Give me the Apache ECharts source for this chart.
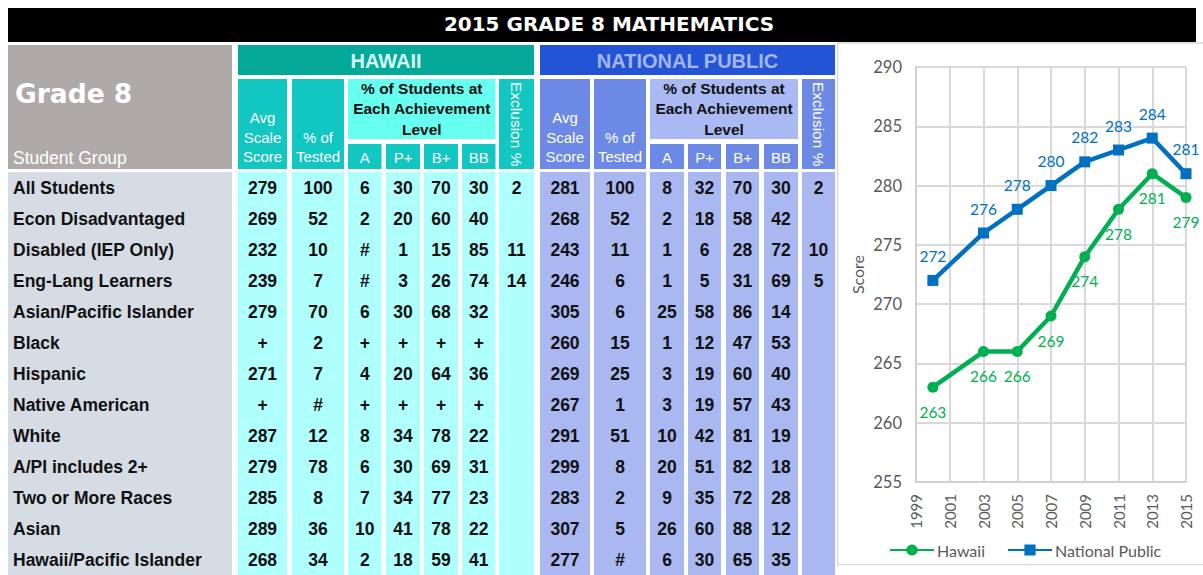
<!DOCTYPE html>
<html><head><meta charset="utf-8">
<script src="https://cdn.jsdelivr.net/npm/echarts@6/dist/echarts.min.js"></script>
<style>html,body{margin:0;padding:0;background:#fff}#c{width:1203px;height:575px}</style>
</head><body><div id="c"></div>
<script>
// ---------------- DATA ----------------
const chartTitle = '2015 GRADE 8 MATHEMATICS';
const groups = ['All Students','Econ Disadvantaged','Disabled (IEP Only)','Eng-Lang Learners','Asian/Pacific Islander','Black','Hispanic','Native American','White','A/PI includes 2+','Two or More Races','Asian','Hawaii/Pacific Islander'];
const hiAvg    = [279,269,232,239,279,'+',271,'+',287,279,285,289,268];
const hiTested = [100,52,10,7,70,2,7,'#',12,78,8,36,34];
const hiA      = [6,2,'#','#',6,'+',4,'+',8,6,7,10,2];
const hiP      = [30,20,1,3,30,'+',20,'+',34,30,34,41,18];
const hiB      = [70,60,15,26,68,'+',64,'+',78,69,77,78,59];
const hiBB     = [30,40,85,74,32,'+',36,'+',22,31,23,22,41];
const hiExcl   = [2,'',11,14,'','','','','','','','',''];
const npAvg    = [281,268,243,246,305,260,269,267,291,299,283,307,277];
const npTested = [100,52,11,6,6,15,25,1,51,8,2,5,'#'];
const npA      = [8,2,1,1,25,1,3,3,10,20,9,26,6];
const npP      = [32,18,6,5,58,12,19,19,42,51,35,60,30];
const npB      = [70,58,28,31,86,47,60,57,81,82,72,88,65];
const npBB     = [30,42,72,69,14,53,40,43,19,18,28,12,35];
const npExcl   = [2,'',10,5,'','','','','','','','',''];

const gradeLabel = 'Grade 8';
const groupHeader = 'Student Group';
const hiHeader = 'HAWAII';
const npHeader = 'NATIONAL PUBLIC';
const avgHeader = 'Avg\nScale\nScore';
const testedHeader = '% of\nTested';
const achHeader = '% of Students at\nEach Achievement\nLevel';
const levelLabels = ['A','P+','B+','BB'];
const exclHeader = 'Exclusion %';

const years = [2000,2003,2005,2007,2009,2011,2013,2015];
const hawaiiScore = [263,266,266,269,274,278,281,279];
const nationalScore = [272,276,278,280,282,283,284,281];
const seriesNames = ['Hawaii','National Public'];
const yAxisName = 'Score';

// ---------------- LAYOUT / STYLE ----------------
const tableColumns = [groups,hiAvg,hiTested,hiA,hiP,hiB,hiBB,hiExcl,npAvg,npTested,npA,npP,npB,npBB,npExcl];
const L = {
  colLeft:  [8,238,292,348,386,424,462,499,540,594,650,688,726,764,802],
  colRight: [232,287,344,381.5,420,458,495.5,534,590,646,684,721,759,798,835],
  rowsTop: 172, rowH: 31.2
};
const C = {
  label:'#d6dce4', hiData:'#b0ffff', npData:'#aab8f1',
  hiBand:'#04a99a', hiSub:'#12c6c2', hiAch:'#66fff0',
  npBand:'#2454d6', npSub:'#6b89e5', npAch:'#a9b9f3',
  grade:'#aeaaaa'
};
const colFill = tableColumns.map((_, c) => c === 0 ? C.label : (c <= 7 ? C.hiData : C.npData));
const FT = '"Liberation Sans", Arial, sans-serif';

function T(text, x, y, font, fill, align, extra) {
  return Object.assign({type:'text', x:x, y:y, style:{text:text, x:0, y:0, font:font, fill:fill,
    textAlign:align||'center', align:align||'center', textVerticalAlign:'middle', verticalAlign:'middle'}}, extra||{});
}

// header cells (layout): column span + pixel band
const headerCells = [
  {c0:0,c1:0,y0:45,y1:169,fill:C.grade, texts:[
    {t:gradeLabel, a:'left', dx:7, y:93.5, font:'bold 26.5px "DejaVu Sans", sans-serif', fill:'#fff'},
    {t:groupHeader, a:'left', dx:5, y:158, font:'17.5px '+FT, fill:'#fff'}]},
  {c0:1,c1:7,y0:45,y1:75,fill:C.hiBand, texts:[{t:hiHeader, y:60.5, font:'bold 20px '+FT, fill:'#d5fbf5'}]},
  {c0:8,c1:14,y0:45,y1:75,fill:C.npBand, texts:[{t:npHeader, y:60.5, font:'bold 20px '+FT, fill:'#a3b6f2'}]}
];
[[1,3,7,C.hiSub,C.hiAch],[8,10,14,C.npSub,C.npAch]].forEach(function(g){
  const a = g[0], l0 = g[1], ex = g[2], sub = g[3], ach = g[4];
  headerCells.push({c0:a,c1:a,y0:79,y1:169,fill:sub,texts:[{t:avgHeader,y:137,font:'15px '+FT,fill:'#fff',lh:19.5}]});
  headerCells.push({c0:a+1,c1:a+1,y0:79,y1:169,fill:sub,texts:[{t:testedHeader,y:147,font:'15px '+FT,fill:'#fff',lh:19.5}]});
  headerCells.push({c0:l0,c1:l0+3,y0:79,y1:139,fill:ach,texts:[{t:achHeader,y:108.5,font:'bold 15.5px '+FT,fill:'#111',lh:20.5}]});
  levelLabels.forEach(function(lb,i){
    headerCells.push({c0:l0+i,c1:l0+i,y0:144,y1:169,fill:sub,texts:[{t:lb,y:157.5,font:'15px '+FT,fill:'#fff'}]});
  });
  headerCells.push({c0:ex,c1:ex,y0:79,y1:169,fill:sub,texts:[{t:exclHeader,y:82,font:'15.5px '+FT,fill:'#fff',rot:true}]});
});

const cellData = [];
tableColumns.forEach(function(col, c){ col.forEach(function(v, r){ cellData.push([c, r]); }); });

function renderCell(params, api) {
  const c = api.value(0), r = api.value(1);
  const ctr = api.coord([0, r]);
  const bandH = api.size([0, 1])[1];
  const x0 = api.coord([L.colLeft[c], r])[0];
  const x1 = api.coord([L.colRight[c], r])[0];
  const y0 = ctr[1] - bandH / 2;
  const txt = String(tableColumns[c][r]);
  const children = [{type:'rect', shape:{x:x0, y:y0, width:x1 - x0, height:bandH + 0.6}, style:{fill:colFill[c]}}];
  if (txt !== '') {
    children.push(T(txt, c === 0 ? x0 + 5 : (x0 + x1) / 2, ctr[1] + 0.5, 'bold 17.5px ' + FT, '#111', c === 0 ? 'left' : 'center'));
  }
  return {type:'group', children:children};
}

function renderHeader(params, api) {
  const h = headerCells[params.dataIndex];
  const x0 = api.coord([L.colLeft[h.c0], 0])[0];
  const x1 = api.coord([L.colRight[h.c1], 0])[0];
  const children = [{type:'rect', shape:{x:x0, y:h.y0, width:x1 - x0, height:h.y1 - h.y0}, style:{fill:h.fill}}];
  h.texts.forEach(function(t){
    let el;
    if (t.rot) {
      el = T(t.t, (x0 + x1) / 2, t.y, t.font, t.fill, 'left', {rotation:-Math.PI / 2});
    } else {
      const x = t.a === 'left' ? x0 + t.dx : (x0 + x1) / 2;
      el = T(t.t, x, t.y, t.font, t.fill, t.a || 'center');
    }
    if (t.lh) el.style.lineHeight = t.lh;
    children.push(el);
  });
  return {type:'group', children:children};
}

const chart = echarts.init(document.getElementById('c'), null, {renderer:'svg'});
const grey = '#d9d9d9';
const labelFont = 'Lato, "Open Sans", sans-serif';
chart.setOption({
  animation:false,
  backgroundColor:'#fff',
  title:{text:chartTitle, left:609, top:14, padding:0, textAlign:'center',
    textStyle:{color:'#fff', fontFamily:'"DejaVu Sans", sans-serif', fontWeight:'bold', fontSize:20}},
  graphic:[
    {type:'rect', z:-10, shape:{x:8, y:8, width:1188, height:34}, style:{fill:'#000'}},
    {type:'rect', z:-10, shape:{x:837.5, y:43, width:380, height:521.5}, style:{fill:'#fff', stroke:grey, lineWidth:1.5}}
  ],
  legend:{data:seriesNames, left:884, top:537, itemWidth:44, itemHeight:14, itemGap:22,
    textStyle:{fontFamily:labelFont, fontSize:16, color:'#595959', padding:[0,0,0,-2]}},
  grid:[
    {left:916, top:67, width:270, height:415},
    {left:0, top:L.rowsTop, width:1203, height:L.rowH * groups.length}
  ],
  xAxis:[
    {type:'value', gridIndex:0, min:1999, max:2015, interval:2,
      axisLine:{show:true, lineStyle:{color:'#d0d0d0', width:2}}, axisTick:{show:false},
      splitLine:{show:true, lineStyle:{color:grey, width:2}},
      axisLabel:{rotate:90, margin:12, color:'#595959', fontFamily:labelFont, fontSize:15, formatter:function(v){return String(v);}}},
    {type:'value', gridIndex:1, min:0, max:1203, show:false}
  ],
  yAxis:[
    {type:'value', gridIndex:0, min:255, max:290, interval:5,
      name:yAxisName, nameLocation:'middle', nameGap:51,
      nameTextStyle:{fontFamily:labelFont, fontSize:16, color:'#595959'},
      axisLine:{show:true, lineStyle:{color:'#d0d0d0', width:2}}, axisTick:{show:false},
      splitLine:{show:true, lineStyle:{color:grey, width:2}},
      axisLabel:{margin:14, color:'#595959', fontFamily:labelFont, fontSize:16.5}},
    {type:'category', gridIndex:1, data:groups, inverse:true, show:false}
  ],
  series:[
    {type:'custom', xAxisIndex:1, yAxisIndex:1, data:headerCells.map(function(h,i){return [i,0];}), renderItem:renderHeader, silent:true},
    {type:'custom', xAxisIndex:1, yAxisIndex:1, data:cellData, renderItem:renderCell, silent:true},
    {name:seriesNames[0], type:'line', xAxisIndex:0, yAxisIndex:0,
      data:years.map(function(y,i){return [y, hawaiiScore[i]];}),
      itemStyle:{color:'#00b050'}, lineStyle:{color:'#00b050', width:4.5},
      symbol:'circle', symbolSize:11,
      label:{show:true, position:'bottom', distance:11, color:'#00b050', fontFamily:labelFont, fontSize:15.5}},
    {name:seriesNames[1], type:'line', xAxisIndex:0, yAxisIndex:0,
      data:years.map(function(y,i){return [y, nationalScore[i]];}),
      itemStyle:{color:'#0070c0'}, lineStyle:{color:'#0070c0', width:4.5},
      symbol:'rect', symbolSize:11,
      label:{show:true, position:'top', distance:11, color:'#0070c0', fontFamily:labelFont, fontSize:15.5}}
  ]
});
</script></body></html>
